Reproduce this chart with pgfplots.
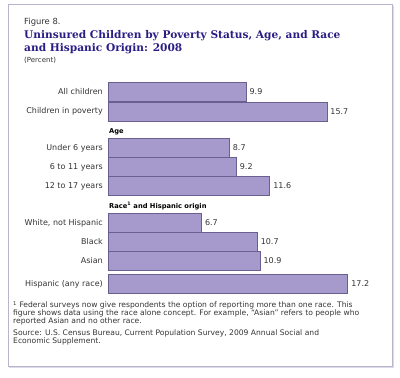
\documentclass[border=0pt]{standalone}
\usepackage{fontspec}
\setmainfont{DejaVu Sans}
\newfontfamily\titlefont{DejaVu Serif}
\usepackage{pgfplots}
\pgfplotsset{compat=1.18}
\definecolor{barfill}{HTML}{A59ACB}
\definecolor{baredge}{HTML}{6A6090}
\definecolor{titleblue}{HTML}{2A1D84}
\definecolor{framec}{HTML}{B9B4CE}
\definecolor{txt}{HTML}{333333}
\begin{document}
\begin{tikzpicture}
\begin{axis}[
  at={(0pt,0pt)}, anchor=south west,
  width=400pt, height=378pt, scale only axis,
  xmin=-7.7475, xmax=20.947,
  ymin=0, ymax=378, y dir=reverse,
  hide axis, clip=false,
  xbar, bar width=19,
  nodes near coords,
  point meta=explicit symbolic,
  every node near coord/.append style={font=\fontsize{8}{9}\selectfont\color{txt}, anchor=west, xshift=0pt},
]
\addplot[fill=barfill, draw=baredge, line width=0.6pt] table[meta=lab] {
x y lab
9.9 92 9.9
15.7 111.5 15.7
8.7 148 8.7
9.2 167 9.2
11.6 186 11.6
6.7 223 6.7
10.7 242 10.7
10.9 261 10.9
17.2 284 17.2
};
\end{axis}
\begin{scope}[x=1pt,y=-1pt,yshift=378pt]
\path (0,0) rectangle (400,378);
\draw[framec, line width=1pt] (8,5) rectangle (392.5,367);
\draw[framec!50, line width=1pt] (393.5,6) -- (393.5,368) -- (9,368);
\begin{scope}[every node/.style={anchor=base west, inner sep=0}]
\node[font=\fontsize{8.4}{9}\selectfont, text=txt] at (24,25) {Figure 8.};
\node[font=\titlefont\bfseries\fontsize{10.6}{12}\selectfont, text=titleblue] at (24,38.5) {Uninsured Children by Poverty Status, Age, and Race};
\node[font=\titlefont\bfseries\fontsize{10.6}{12}\selectfont, text=titleblue] at (24,51.5) {and Hispanic Origin: 2008};
\node[font=\fontsize{7}{8}\selectfont, text=txt] at (24,62.5) {(Percent)};
\node[font=\bfseries\fontsize{6.7}{8}\selectfont, text=black] at (109,133.5) {Age};
\node[font=\bfseries\fontsize{6.7}{8}\selectfont, text=black] at (109,209) {Race\textsuperscript{1} and Hispanic origin};
\node[font=\fontsize{7.6}{8}\selectfont, text=txt] at (13,308) {\textsuperscript{1} Federal surveys now give respondents the option of reporting more than one race. This};
\node[font=\fontsize{7.6}{8}\selectfont, text=txt] at (13,316) {figure shows data using the race alone concept. For example, ``Asian'' refers to people who};
\node[font=\fontsize{7.6}{8}\selectfont, text=txt] at (13,324) {reported Asian and no other race.};
\node[font=\fontsize{7.6}{8}\selectfont, text=txt] at (13,336) {Source: U.S. Census Bureau, Current Population Survey, 2009 Annual Social and};
\node[font=\fontsize{7.6}{8}\selectfont, text=txt] at (13,344) {Economic Supplement.};
\end{scope}
\begin{scope}[every node/.style={anchor=east, inner sep=0, font=\fontsize{8}{9}\selectfont, text=txt}]
\node at (103,92) {All children};
\node at (103,111.5) {Children in poverty};
\node at (103,148) {Under 6 years};
\node at (103,167) {6 to 11 years};
\node at (103,186) {12 to 17 years};
\node at (103,223) {White, not Hispanic};
\node at (103,242) {Black};
\node at (103,261) {Asian};
\node at (103,284) {Hispanic (any race)};
\end{scope}
\end{scope}
\end{tikzpicture}
\end{document}
